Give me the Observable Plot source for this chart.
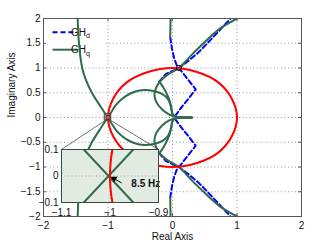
<!DOCTYPE html>
<html><head><meta charset="utf-8">
<script src="https://cdn.jsdelivr.net/npm/d3@7"></script>
<script src="https://cdn.jsdelivr.net/npm/@observablehq/plot@0.6"></script>
<style>
html,body{margin:0;padding:0;background:#fff;}
#wrap{position:relative;width:332px;height:244px;}
#wrap svg{position:absolute;}
</style></head><body><div id="wrap"></div>
<script>
// ---------- data ----------
const xTicks = [-2, -1, 0, 1, 2];
const xTickLabels = ["−2", "−1", "0", "1", "2"];
const yTicks = [-2, -1.5, -1, -0.5, 0, 0.5, 1, 1.5, 2];
const yTickLabels = ["−2", "−1.5", "−1", "−0.5", "0", "0.5", "1", "1.5", "2"];
const insetXTicks = [-1.1, -1, -0.9];
const insetXTickLabels = ["−1.1", "−1", "−0.9"];
const insetYTicks = [-0.1, 0, 0.1];
const insetYTickLabels = ["−0.1", "0", "0.1"];
const legendLabels = [["GH", "d"], ["GH", "q"]];
const annotationText = ["8.5 Hz"];
const axisTitles = ["Real Axis", "Imaginary Axis"];

// GH_q, upper half (re, im); lower half is its mirror image
const ghqLeft = [[-1.47, 2.0], [-1.45, 1.5], [-1.40, 1.0], [-1.34, 0.75], [-1.25, 0.5], [-1.13, 0.25], [-1.055, 0.1], [-1.0, 0.0]];
const ghqArc = [[-1.0, 0.0], [-0.953, 0.1], [-0.88, 0.25], [-0.78, 0.38], [-0.66, 0.48], [-0.53, 0.54], [-0.42, 0.555], [-0.31, 0.54], [-0.2, 0.5], [-0.12, 0.44], [-0.07, 0.37], [-0.035, 0.27], [-0.015, 0.16], [0.0, 0.07], [0.05, 0.02], [0.3, 0.0]];
const ghqLine = [[1.0, 2.0], [0.74, 1.8], [0.53, 1.56], [0.3, 1.27], [0.1, 1.0], [-0.08, 0.86], [-0.2, 0.72], [-0.26, 0.58], [-0.28, 0.46], [-0.25, 0.31], [-0.16, 0.16], [-0.05, 0.06], [0.05, 0.015], [0.3, 0.0]];
const ghqLens = [[-0.2, 0.72], [-0.14, 0.6], [-0.09, 0.48], [-0.05, 0.36], [-0.025, 0.24], [-0.01, 0.13], [0.01, 0.05], [0.06, 0.012]];
const ghqTop = [[-0.03, 2.0], [-0.033, 1.8], [-0.035, 1.62]];
// GH_d, upper half
const ghdA = [[-0.21, 0.72], [-0.1, 0.88], [0.1, 1.0], [0.25, 1.15], [0.39, 1.3], [0.54, 1.5], [0.7, 1.72], [0.9, 2.0]];
const ghdB = [[-0.035, 1.62], [-0.01, 1.4], [0.025, 1.2], [0.065, 1.06], [0.1, 1.0], [0.22, 0.8], [0.36, 0.57], [0.26, 0.4], [0.16, 0.24], [0.08, 0.1], [0.02, 0.0]];
// unit circle
const unitCircle = [[1, 0], [0.92, 0.38], [0.71, 0.71], [0.38, 0.92], [0, 1], [-0.38, 0.92], [-0.71, 0.71], [-0.92, 0.38], [-1, 0], [-0.92, -0.38], [-0.71, -0.71], [-0.38, -0.92], [0, -1], [0.38, -0.92], [0.71, -0.71], [0.92, -0.38]];
const crossingMarker = [[0.1, 1.0]];
const zoomCenter = [[-1, 0]];
const zoomWindow = [{x1: -1.05, x2: -0.95, y1: -0.065, y2: 0.065}];

// inset (zoom near −1)
const insetGreen1 = [[-1.054, 0.1], [-0.952, -0.1]];
const insetGreen2 = [[-0.952, 0.1], [-1.054, -0.1]];
const insetRed = [[-0.99, 0.14], [-0.995, 0.1], [-0.9988, 0.05], [-1.0, 0.0], [-0.9988, -0.05], [-0.995, -0.1], [-0.99, -0.14]];
const arrowTail = [-0.976, -0.026];
const arrowHead = [-0.9915, -0.0102];
const labelPos = [-0.956, -0.0294];

// ---------- styles / layout ----------
const FONT = '"Liberation Sans", Arial, Helvetica, sans-serif';
const GREEN = "#2f6b4b";
const BLUE = "#0000ff";
const RED = "#ff0000";
const W = 332, H = 244, mL = 43, mR = 31, mT = 18, mB = 28;
const FW = W - mL - mR, FH = H - mT - mB;
const insetBox = {left: 61, top: 149, width: 97, height: 53};
const iL = 24, iR = 16, iT = 6, iB = 18;

const toRows = (pts, piece) => pts.map(([re, im]) => ({re, im, piece}));
const conj = pts => pts.map(([re, im]) => [re, -im]);
const both = (pieces, tag) => pieces.flatMap((p, i) => [...toRows(p, tag + "u" + i), ...toRows(conj(p), tag + "l" + i)]);
const ghq = both([ghqLeft, ghqArc, ghqLine, ghqLens, ghqTop], "q");
const ghd = both([ghdA, ghdB], "d");
const circleRows = toRows(unitCircle, "c");
const fmt = (ticks, labels) => d => { const i = ticks.findIndex(t => Math.abs(t - d) < 1e-9); return i < 0 ? "" : labels[i]; };

const xPix = d3.scaleLinear([mL, W - mR], [-2, 2]);
const yPix = d3.scaleLinear([H - mB, mT], [-2, 2]);
const zw = zoomWindow[0];
const connectors = [
  {x1: zw.x1, y1: zw.y1, x2: xPix(insetBox.left), y2: yPix(insetBox.top)},
  {x1: zw.x2, y1: zw.y1, x2: xPix(insetBox.left + insetBox.width), y2: yPix(insetBox.top)}
];

function legendMark() {
  const g = d3.create("svg:g").attr("font-family", FONT);
  g.append("rect").attr("x", 45).attr("y", 22).attr("width", 60).attr("height", 37).attr("fill", "white");
  const items = [
    {lab: legendLabels[0], color: BLUE, dash: "5,3", y: 32.3},
    {lab: legendLabels[1], color: GREEN, dash: null, y: 49.7}
  ];
  for (const it of items) {
    const l = g.append("line").attr("x1", 52.5).attr("x2", 77).attr("y1", it.y).attr("y2", it.y)
      .attr("stroke", it.color).attr("stroke-width", 2);
    if (it.dash) l.attr("stroke-dasharray", it.dash);
    const t = g.append("text").attr("x", 80.5).attr("y", it.y + 3.4).attr("font-size", 10).attr("fill", "#111");
    t.append("tspan").text(it.lab[0]);
    t.append("tspan").attr("font-size", 7).attr("dy", 2.6).text(it.lab[1]);
  }
  return g.node();
}

const main = Plot.plot({
  width: W, height: H, marginLeft: mL, marginRight: mR, marginTop: mT, marginBottom: mB,
  style: {background: "white", fontFamily: FONT, fontSize: "10px", overflow: "visible", color: "#111"},
  x: {domain: [-2, 2]},
  y: {domain: [-2, 2]},
  marks: [
    Plot.gridX(xTicks, {stroke: "#9a9a9a", strokeOpacity: 1, strokeDasharray: "1,2.5"}),
    Plot.gridY(yTicks, {stroke: "#9a9a9a", strokeOpacity: 1, strokeDasharray: "1,2.5"}),
    legendMark,
    Plot.line(ghd, {x: "re", y: "im", z: "piece", stroke: BLUE, strokeWidth: 2, strokeDasharray: "5,3", clip: true}),
    Plot.line(ghq, {x: "re", y: "im", z: "piece", stroke: GREEN, strokeWidth: 2, curve: "catmull-rom", clip: true}),
    Plot.line(circleRows, {x: "re", y: "im", stroke: RED, strokeWidth: 2, curve: "catmull-rom-closed"}),
    Plot.link(connectors, {x1: "x1", y1: "y1", x2: "x2", y2: "y2", stroke: "#333", strokeWidth: 0.7}),
    Plot.rect(zoomWindow, {x1: "x1", x2: "x2", y1: "y1", y2: "y2", fill: "#999", fillOpacity: 0.55, stroke: "#444", strokeWidth: 1}),
    Plot.dot(zoomCenter, {x: d => d[0], y: d => d[1], r: 2.2, stroke: "#7a1010", strokeWidth: 1}),
    Plot.dot(crossingMarker, {x: d => d[0], y: d => d[1], r: 2.6, stroke: "#111", strokeWidth: 1}),
    Plot.tickY(yTicks, {y: d => d, insetRight: FW - 3, stroke: "#555"}),
    Plot.tickY(yTicks, {y: d => d, insetLeft: FW - 3, stroke: "#555"}),
    Plot.tickX(xTicks, {x: d => d, insetTop: FH - 3, stroke: "#555"}),
    Plot.tickX(xTicks, {x: d => d, insetBottom: FH - 3, stroke: "#555"}),
    Plot.frame({stroke: "#555"}),
    Plot.axisX({ticks: xTicks, tickSize: 0, tickPadding: 5, tickFormat: fmt(xTicks, xTickLabels), label: null}),
    Plot.axisY({ticks: yTicks, tickSize: 0, tickPadding: 3, tickFormat: fmt(yTicks, yTickLabels), label: null}),
    Plot.text([axisTitles[0]], {text: d => d, frameAnchor: "bottom", lineAnchor: "top", dy: 16, fill: "#111"}),
    Plot.text([axisTitles[1]], {text: d => d, frameAnchor: "left", dx: -32, rotate: -90, lineAnchor: "middle", fill: "#111"})
  ]
});
main.style.left = "0px"; main.style.top = "0px";

const insetLines = [...toRows(insetGreen1, "a"), ...toRows(insetGreen2, "b")];
const inset = Plot.plot({
  width: insetBox.width + iL + iR, height: insetBox.height + iT + iB,
  marginLeft: iL, marginRight: iR, marginTop: iT, marginBottom: iB,
  style: {background: "transparent", fontFamily: FONT, fontSize: "10px", overflow: "visible", color: "#111"},
  x: {domain: [-1.1, -0.9]},
  y: {domain: [-0.1, 0.1]},
  marks: [
    Plot.frame({fill: "#e1ebe1"}),
    Plot.gridY([0], {stroke: "#9a9a9a", strokeOpacity: 1, strokeDasharray: "1,2.5"}),
    Plot.gridX([-1], {stroke: "#9a9a9a", strokeOpacity: 1, strokeDasharray: "1,2.5"}),
    Plot.line(insetLines, {x: "re", y: "im", z: "piece", stroke: GREEN, strokeWidth: 2, clip: true}),
    Plot.line(toRows(insetRed, "r"), {x: "re", y: "im", stroke: RED, strokeWidth: 2, curve: "catmull-rom", clip: true}),
    Plot.link([{a: arrowTail, b: arrowHead}], {x1: d => d.a[0], y1: d => d.a[1], x2: d => d.b[0], y2: d => d.b[1], stroke: "#000", strokeWidth: 1}),
    Plot.dot([arrowHead], {x: d => d[0], y: d => d[1], symbol: "triangle", rotate: -61, r: 2.5, fill: "#000", stroke: "none"}),
    Plot.text(annotationText, {text: d => d, x: labelPos[0], y: labelPos[1], textAnchor: "start", lineAnchor: "middle", fontWeight: "bold", fontSize: 10, fill: "#111"}),
    Plot.frame({stroke: "#3a4a40"}),
    Plot.axisX({ticks: insetXTicks, tickSize: 0, tickPadding: 6, tickFormat: fmt(insetXTicks, insetXTickLabels), label: null}),
    Plot.axisY({ticks: insetYTicks, tickSize: 0, tickPadding: 3, tickFormat: fmt(insetYTicks, insetYTickLabels), label: null})
  ]
});
inset.style.left = (insetBox.left - iL) + "px";
inset.style.top = (insetBox.top - iT) + "px";

const wrap = document.getElementById("wrap");
wrap.appendChild(main);
wrap.appendChild(inset);
</script></body></html>
